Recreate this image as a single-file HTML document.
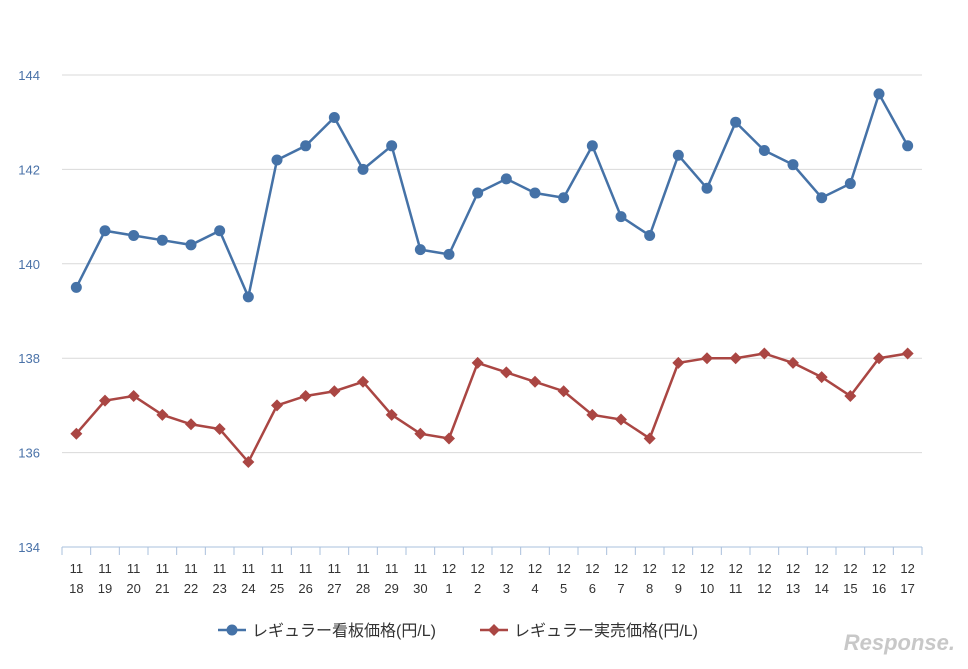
<!DOCTYPE html>
<html><head><meta charset="utf-8"><style>
html,body{margin:0;padding:0;background:#fff;}
body{width:968px;height:664px;overflow:hidden;font-family:"Liberation Sans","Noto Sans CJK JP",sans-serif;}
</style></head><body>
<svg id="chart" width="968" height="664" xmlns="http://www.w3.org/2000/svg" style="font-family:'Liberation Sans','Noto Sans CJK JP',sans-serif"></svg>
<script>
const months=["11","11","11","11","11","11","11","11","11","11","11","11","11","12","12","12","12","12","12","12","12","12","12","12","12","12","12","12","12","12"];
const days=["18","19","20","21","22","23","24","25","26","27","28","29","30","1","2","3","4","5","6","7","8","9","10","11","12","13","14","15","16","17"];
const signPrice=[139.5,140.7,140.6,140.5,140.4,140.7,139.3,142.2,142.5,143.1,142.0,142.5,140.3,140.2,141.5,141.8,141.5,141.4,142.5,141.0,140.6,142.3,141.6,143.0,142.4,142.1,141.4,141.7,143.6,142.5];
const actualPrice=[136.4,137.1,137.2,136.8,136.6,136.5,135.8,137.0,137.2,137.3,137.5,136.8,136.4,136.3,137.9,137.7,137.5,137.3,136.8,136.7,136.3,137.9,138.0,138.0,138.1,137.9,137.6,137.2,138.0,138.1];
const yTicks=[134,136,138,140,142,144];

const svg=document.getElementById('chart');
const NS="http://www.w3.org/2000/svg";
const X0=62,X1=922,Y0=547,Y1=75,YMIN=134,YMAX=144;
const band=(X1-X0)/days.length;
const xs=i=>X0+band*(i+0.5);
const ys=v=>Y0-(v-YMIN)/(YMAX-YMIN)*(Y0-Y1);
function mk(tag,attrs,parent){const e=document.createElementNS(NS,tag);for(const k in attrs)e.setAttribute(k,attrs[k]);(parent||svg).appendChild(e);return e;}

yTicks.forEach(t=>{
  if(t!==YMIN){const g=mk('line',{x1:X0,x2:X1,y1:ys(t),y2:ys(t),stroke:'#d9d9d9','stroke-width':1});
  
  }
  const l=mk('text',{x:40,y:ys(t)+5,'text-anchor':'end','font-size':13,fill:'#4a72a8'});
  l.textContent=t;
  
  
});
const ax=mk('line',{x1:X0,x2:X1,y1:Y0,y2:Y0,stroke:'#aac0dc','stroke-width':1});


for(let k=0;k<=days.length;k++){
  const x=X0+band*k;
  const t=mk('line',{x1:x,x2:x,y1:Y0,y2:Y0+8,stroke:'#aac0dc','stroke-width':1});
  
  
}
days.forEach((d,i)=>{
  const a=mk('text',{x:xs(i),y:573,'text-anchor':'middle','font-size':13,fill:'#333'});a.textContent=months[i];
  
  
  const b=mk('text',{x:xs(i),y:593,'text-anchor':'middle','font-size':13,fill:'#333'});b.textContent=d;
  
  
});

function series(vals,color,shape,name){
  const p=mk('polyline',{points:vals.map((v,i)=>xs(i)+','+ys(v)).join(' '),fill:'none',stroke:color,'stroke-width':2.5});
  
  
  vals.forEach((v,i)=>{
    let m;
    if(shape==='circle')m=mk('circle',{cx:xs(i),cy:ys(v),r:5.5,fill:color});
    else{const x=xs(i),y=ys(v);m=mk('polygon',{points:`${x},${y-6} ${x+6},${y} ${x},${y+6} ${x-6},${y}`,fill:color});}
    
    
  });
}
series(signPrice,'#4572a7','circle','sign-price');
series(actualPrice,'#aa4643','diamond','actual-price');

// legend
const lg=mk('g',{});


const l1=mk('line',{x1:218,x2:246,y1:630,y2:630,stroke:'#4572a7','stroke-width':2.5},lg);
mk('circle',{cx:232,cy:630,r:5.5,fill:'#4572a7'},lg);
const t1=mk('text',{x:252,y:636,'font-size':16,fill:'#333'},lg);t1.textContent='レギュラー看板価格(円/L)';


mk('line',{x1:480,x2:508,y1:630,y2:630,stroke:'#aa4643','stroke-width':2.5},lg);
mk('polygon',{points:'494,624 500,630 494,636 488,630',fill:'#aa4643'},lg);
const t2=mk('text',{x:514,y:636,'font-size':16,fill:'#333'},lg);t2.textContent='レギュラー実売価格(円/L)';


const wm=mk('text',{x:955,y:650,'text-anchor':'end','font-size':22,'font-style':'italic','font-weight':'bold',fill:'#c8c8c8'});
wm.textContent='Response.';


</script>
</body></html>
